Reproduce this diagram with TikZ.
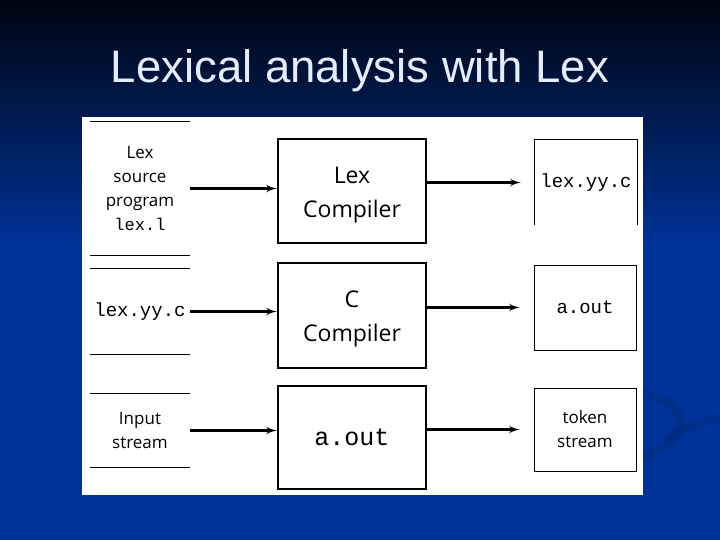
\documentclass[tikz,border=0pt]{standalone}
\usepackage{fontspec}
\setmainfont{Liberation Sans}
\newfontfamily\handfont{Open Sans}
\newfontfamily\codefont{Liberation Mono}
\usetikzlibrary{shapes,arrows,positioning}

\definecolor{slideblue}{HTML}{003399}
\definecolor{slidetop}{HTML}{000510}
\definecolor{titlecol}{HTML}{E6ECFF}

\begin{document}
\begin{tikzpicture}[x=1pt, y=-1pt, auto]
        \tikzstyle{block} = [rectangle, draw, line width=2.5pt, text centered, align=center, minimum width=148pt, font=\handfont\fontsize{23}{34}\selectfont]
        \tikzstyle{store} = [rectangle, text centered, align=center, minimum width=100pt, font=\handfont\fontsize{17}{24}\selectfont]
        \tikzstyle{result} = [rectangle, draw, line width=0.8pt, text centered, align=center, minimum width=102pt, minimum height=85pt, font=\handfont\fontsize{17}{24}\selectfont]
        \tikzstyle{line} = [draw, line width=2.6pt, -latex']

        % slide background
        \useasboundingbox (0,0) rectangle (720,540);
        \fill [slideblue] (0,0) rectangle (720,540);
        \shade [top color=slidetop, bottom color=slideblue] (0,0) rectangle (720,250);
        \draw [slideblue!70!black, line width=9pt, opacity=0.3] (640,392) .. controls (700,408) and (690,440) .. (640,458);
        \draw [slideblue!70!black, line width=9pt, opacity=0.3] (665,440) .. controls (690,425) .. (720,418);
        \node [text=titlecol, font=\fontsize{45.5}{50}\selectfont] (title) at (360,71) {Lexical analysis with Lex};
        \fill [white] (82,117) rectangle (643,495);

        % inputs
        \node [store, minimum height=134pt] (src) at (140,188.5) {Lex\\source\\program\\{\codefont lex.l}};
        \node [store, minimum height=85pt, font=\codefont\fontsize{19}{24}\selectfont] (csrc) at (140,311.5) {lex.yy.c};
        \node [store, minimum height=74pt] (input) at (140,430.5) {Input\\stream};
        \foreach \n in {src,csrc,input} {
            \draw [line width=0.8pt] (\n.north west) -- (\n.north east);
            \draw [line width=0.8pt] (\n.south west) -- (\n.south east);
        }

        % tools
        \node [block, minimum height=104pt] (lexc) at (352,191) {\strut Lex\\Compiler};
        \node [block, minimum height=105pt] (cc) at (352,315.5) {\strut C\\Compiler};
        \node [block, minimum height=103pt, font=\codefont\fontsize{25}{30}\selectfont] (run) at (352,437.5) {a.out};

        % outputs
        \node [result, draw=none, font=\codefont\fontsize{19}{24}\selectfont] (lexyy) at (586,182.5) {lex.yy.c};
        \draw [line width=0.8pt] (lexyy.south west) -- (lexyy.north west) -- (lexyy.north east) -- (lexyy.south east);
        \node [result, font=\codefont\fontsize{19}{24}\selectfont] (aout) at (585,307.5) {a.out};
        \node [result, minimum height=83pt] (tokens) at (585,429.5) {token\\stream};

        \path [line] (src.east) -- (src.east -| lexc.west);
        \path [line] (csrc.east) -- (csrc.east -| cc.west);
        \path [line] (input.east) -- (input.east -| run.west);
        \path [line, shorten >=14pt] (lexyy.west -| lexc.east) -- (lexyy.west);
        \path [line, shorten >=14pt] (aout.west -| cc.east) -- (aout.west);
        \path [line, shorten >=14pt] (tokens.west -| run.east) -- (tokens.west);
    \end{tikzpicture}
\end{document}
